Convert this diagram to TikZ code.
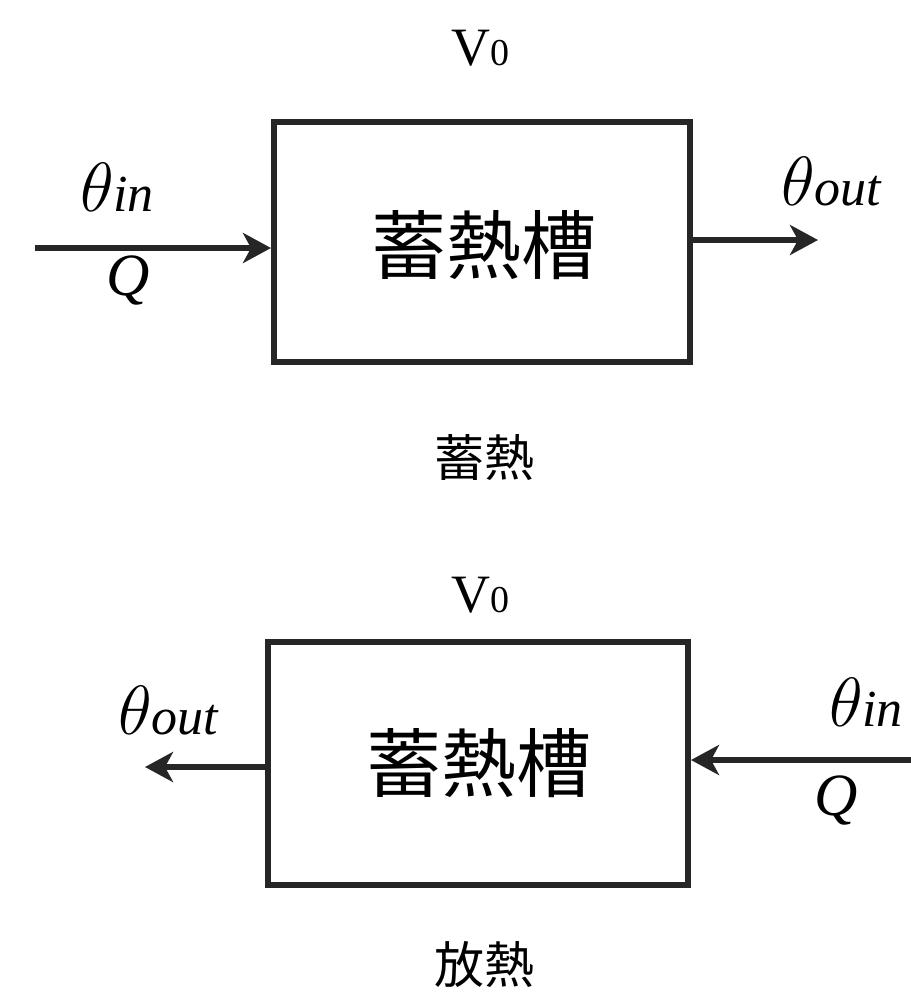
\documentclass[tikz,border=0pt]{standalone}
\usepackage{graphicx}
\usepackage{fontspec}
\setmainfont{Liberation Serif}
\newfontfamily\cjk{Noto Sans CJK JP}
\usetikzlibrary{arrows.meta}
\tikzset{
  tank/.style={draw=black!85, line width=3pt, inner sep=0pt},
  flow/.style={draw=black!85, line width=2.8pt, -{Stealth[length=14pt,width=15pt,inset=4pt]}},
  lab/.style={font=\fontsize{26}{28}\selectfont\itshape, inner sep=0pt},
  qlab/.style={font=\fontsize{30}{30}\selectfont\itshape, inner sep=0pt},
  vol/.style={font=\fontsize{27}{30}\selectfont, inner sep=0pt},
  tt/.style={font=\cjk\fontsize{37.5}{40}\selectfont, inner sep=0pt},
  captext/.style={font=\cjk\fontsize{25}{28}\selectfont, inner sep=0pt}
}
\newcommand{\mytheta}{\scalebox{1.4}{$\theta$}}
\newcommand{\mythetain}{\mytheta\kern-0.02em in}
\newcommand{\mythetaout}{\mytheta\kern-0.02em out}
\newcommand{\myvzero}{V{\fontsize{19}{20}\selectfont 0}}
\begin{document}
\begin{tikzpicture}[x=0.5pt,y=-0.5pt]
\useasboundingbox (0,0) rectangle (911,992);
% top
\node[tank, minimum width=208pt, minimum height=120pt] (b1) at (482,242) {};
\node[tt] (t1) at (484,245) {蓄熱槽};
\node[vol] (v1) at (480,48) {\myvzero};
\coordinate (i1) at (35,248);
\coordinate (o1) at (818,240);
\draw[flow] (i1) -- (i1 -| b1.west);
\draw[flow] (o1 -| b1.east) -- (o1);
\node[lab] (l1) at (117,187) {\mythetain};
\node[qlab] (q1) at (128,280) {Q};
\node[lab] (l2) at (831,182) {\mythetaout};
\node[captext] (c1) at (484,458) {蓄熱};
% bottom
\node[tank, minimum width=210pt, minimum height=121.5pt] (b2) at (478,763.5) {};
\node[tt] (t2) at (479,763) {蓄熱槽};
\node[vol] (v2) at (480,595) {\myvzero};
\coordinate (o2) at (145,767);
\coordinate (i2) at (915,760);
\draw[flow] (o2 -| b2.west) -- (o2);
\draw[flow] (i2) -- (i2 -| b2.east);
\node[lab] (l3) at (168,711) {\mythetaout};
\node[lab] (l4) at (866,702) {\mythetain};
\node[qlab] (q2) at (836,800) {Q};
\node[captext] (c2) at (484,965) {放熱};
\end{tikzpicture}
\end{document}
